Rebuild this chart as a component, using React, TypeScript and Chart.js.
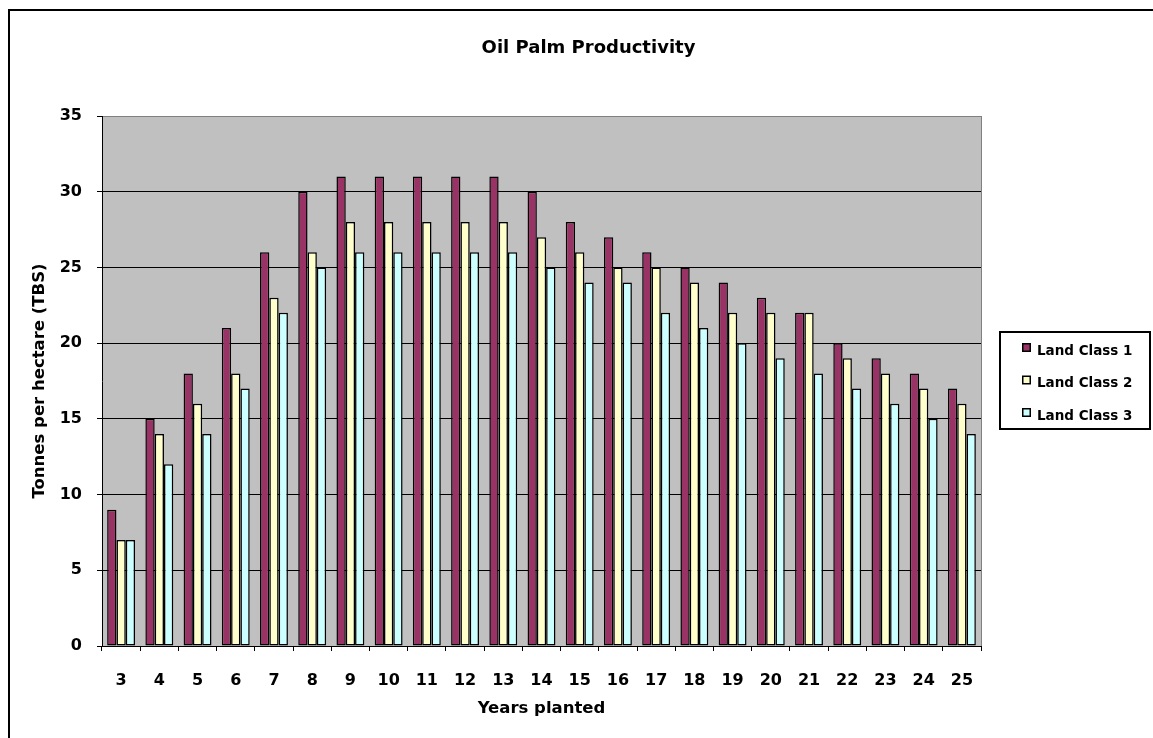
import React, { useEffect, useRef } from "react";
import { Chart, registerables } from "chart.js";

Chart.register(...registerables);

const years = ["3", "4", "5", "6", "7", "8", "9", "10", "11", "12", "13", "14", "15", "16", "17", "18", "19", "20", "21", "22", "23", "24", "25"];
const landClass1 = [9, 15, 18, 21, 26, 30, 31, 31, 31, 31, 31, 30, 28, 27, 26, 25, 24, 23, 22, 20, 19, 18, 17];
const landClass2 = [7, 14, 16, 18, 23, 26, 28, 28, 28, 28, 28, 27, 26, 25, 25, 24, 22, 22, 22, 19, 18, 17, 16];
const landClass3 = [7, 12, 14, 17, 22, 25, 26, 26, 26, 26, 26, 25, 24, 24, 22, 21, 20, 19, 18, 17, 16, 15, 14];
const seriesLabels = ["Land Class 1", "Land Class 2", "Land Class 3"];
const seriesColors = ["#993366", "#FFFFCC", "#CCFFFF"];
const yMin = 0;
const yMax = 35;
const yStep = 5;

const FONT = "'DejaVu Sans', Verdana, sans-serif";

const decorPlugin = {
  id: "decor",
  beforeDraw(chart: any) {
    const { ctx, chartArea: a } = chart;
    ctx.save();
    ctx.fillStyle = "#FFFFFF";
    ctx.fillRect(0, 0, chart.width, chart.height);
    ctx.fillStyle = "#C0C0C0";
    ctx.fillRect(a.left, a.top, a.right - a.left, a.bottom - a.top);
    ctx.restore();
  },
  afterDraw(chart: any) {
    const { ctx, chartArea: a } = chart;
    ctx.save();
    // plot area right edge (grey)
    ctx.strokeStyle = "#808080";
    ctx.lineWidth = 1;
    ctx.beginPath();
    ctx.moveTo(Math.round(a.right) + 0.5, a.top);
    ctx.lineTo(Math.round(a.right) + 0.5, a.bottom);
    ctx.stroke();

    // outer frame
    ctx.strokeStyle = "#000000";
    ctx.lineWidth = 2;
    ctx.beginPath();
    ctx.moveTo(9, chart.height + 2);
    ctx.lineTo(9, 10);
    ctx.lineTo(chart.width + 2, 10);
    ctx.stroke();

    // legend
    const bx = 1000, by = 332, bw = 150, bh = 97;
    ctx.lineWidth = 2;
    ctx.strokeRect(bx, by, bw, bh);
    const centers = [347.5, 380, 412.5];
    ctx.font = `bold 13.5px ${FONT}`;
    ctx.textAlign = "left";
    ctx.textBaseline = "alphabetic";
    chart.data.datasets.forEach((ds: any, i: number) => {
      const cy = centers[i];
      ctx.fillStyle = "#000000";
      ctx.fillRect(1022, cy - 4.5, 9, 9);
      ctx.fillStyle = ds.backgroundColor;
      ctx.fillRect(1023.5, cy - 3, 6, 6);
      ctx.fillStyle = "#000000";
      ctx.fillText(ds.label, 1037, cy + 7);
    });
    ctx.restore();
  },
};

export default function App() {
  const ref = useRef<HTMLCanvasElement | null>(null);

  useEffect(() => {
    if (!ref.current) return;
    const chart = new Chart(ref.current, {
      type: "bar",
      data: {
        labels: years,
        datasets: [landClass1, landClass2, landClass3].map((d, i) => ({
          label: seriesLabels[i],
          data: d,
          backgroundColor: seriesColors[i],
          borderColor: "#000000",
          borderWidth: 1.5,
          borderSkipped: false,
          categoryPercentage: 0.73,
          barPercentage: 1.0,
          yAxisID: "y",
        })),
      },
      options: {
        responsive: false,
        animation: false,
        devicePixelRatio: 1,
        layout: { padding: { left: 24, right: 0, top: 0, bottom: 0 } },
        plugins: {
          legend: { display: false },
          tooltip: { enabled: false },
          title: {
            display: true,
            text: "Oil Palm Productivity",
            color: "#000000",
            font: { family: FONT, size: 18, weight: "bold" },
            padding: { top: 38, bottom: 56.4 },
          },
        },
        scales: {
          x: {
            offset: true,
            grid: {
              offset: true,
              drawOnChartArea: false,
              drawTicks: true,
              tickLength: 5,
              color: "#000000",
            },
            border: { color: "#000000", width: 1 },
            ticks: {
              color: "#000000",
              font: { family: FONT, size: 16, weight: "bold" },
              padding: 20,
              maxRotation: 0,
              autoSkip: false,
            },
            title: {
              display: true,
              text: "Years planted",
              color: "#000000",
              font: { family: FONT, size: 16.5, weight: "bold" },
              padding: { top: 0, bottom: 19 },
            },
            afterFit: (scale: any) => {
              scale.height = 92;
            },
          },
          y: {
            min: yMin,
            max: yMax,
            grid: {
              color: (c: any) => (c.tick && c.tick.value === yMax ? "#808080" : "#000000"),
              tickColor: "#000000",
              tickLength: 5,
              lineWidth: 1,
            },
            border: { color: "#000000", width: 1 },
            ticks: {
              stepSize: yStep,
              color: "#000000",
              font: { family: FONT, size: 16, weight: "bold" },
              padding: 15,
            },
            title: {
              display: true,
              text: "Tonnes per hectare (TBS)",
              color: "#000000",
              font: { family: FONT, size: 16.5, weight: "bold" },
              padding: { top: 6, bottom: 0 },
            },
            afterFit: (scale: any) => {
              scale.width = 78;
            },
          },
          legendSpace: {
            type: "linear",
            axis: "y",
            position: "right",
            display: true,
            grid: { display: false, drawTicks: false },
            border: { display: false },
            ticks: { display: false },
            title: { display: false },
            afterFit: (scale: any) => {
              scale.width = 172;
            },
          },
        },
      },
      plugins: [decorPlugin],
    });
    return () => chart.destroy();
  }, []);

  return (
    <div style={{ position: "absolute", left: 0, top: 0, width: 1153, height: 738 }}>
      <canvas ref={ref} width={1153} height={738} style={{ display: "block", width: 1153, height: 738 }} />
    </div>
  );
}
